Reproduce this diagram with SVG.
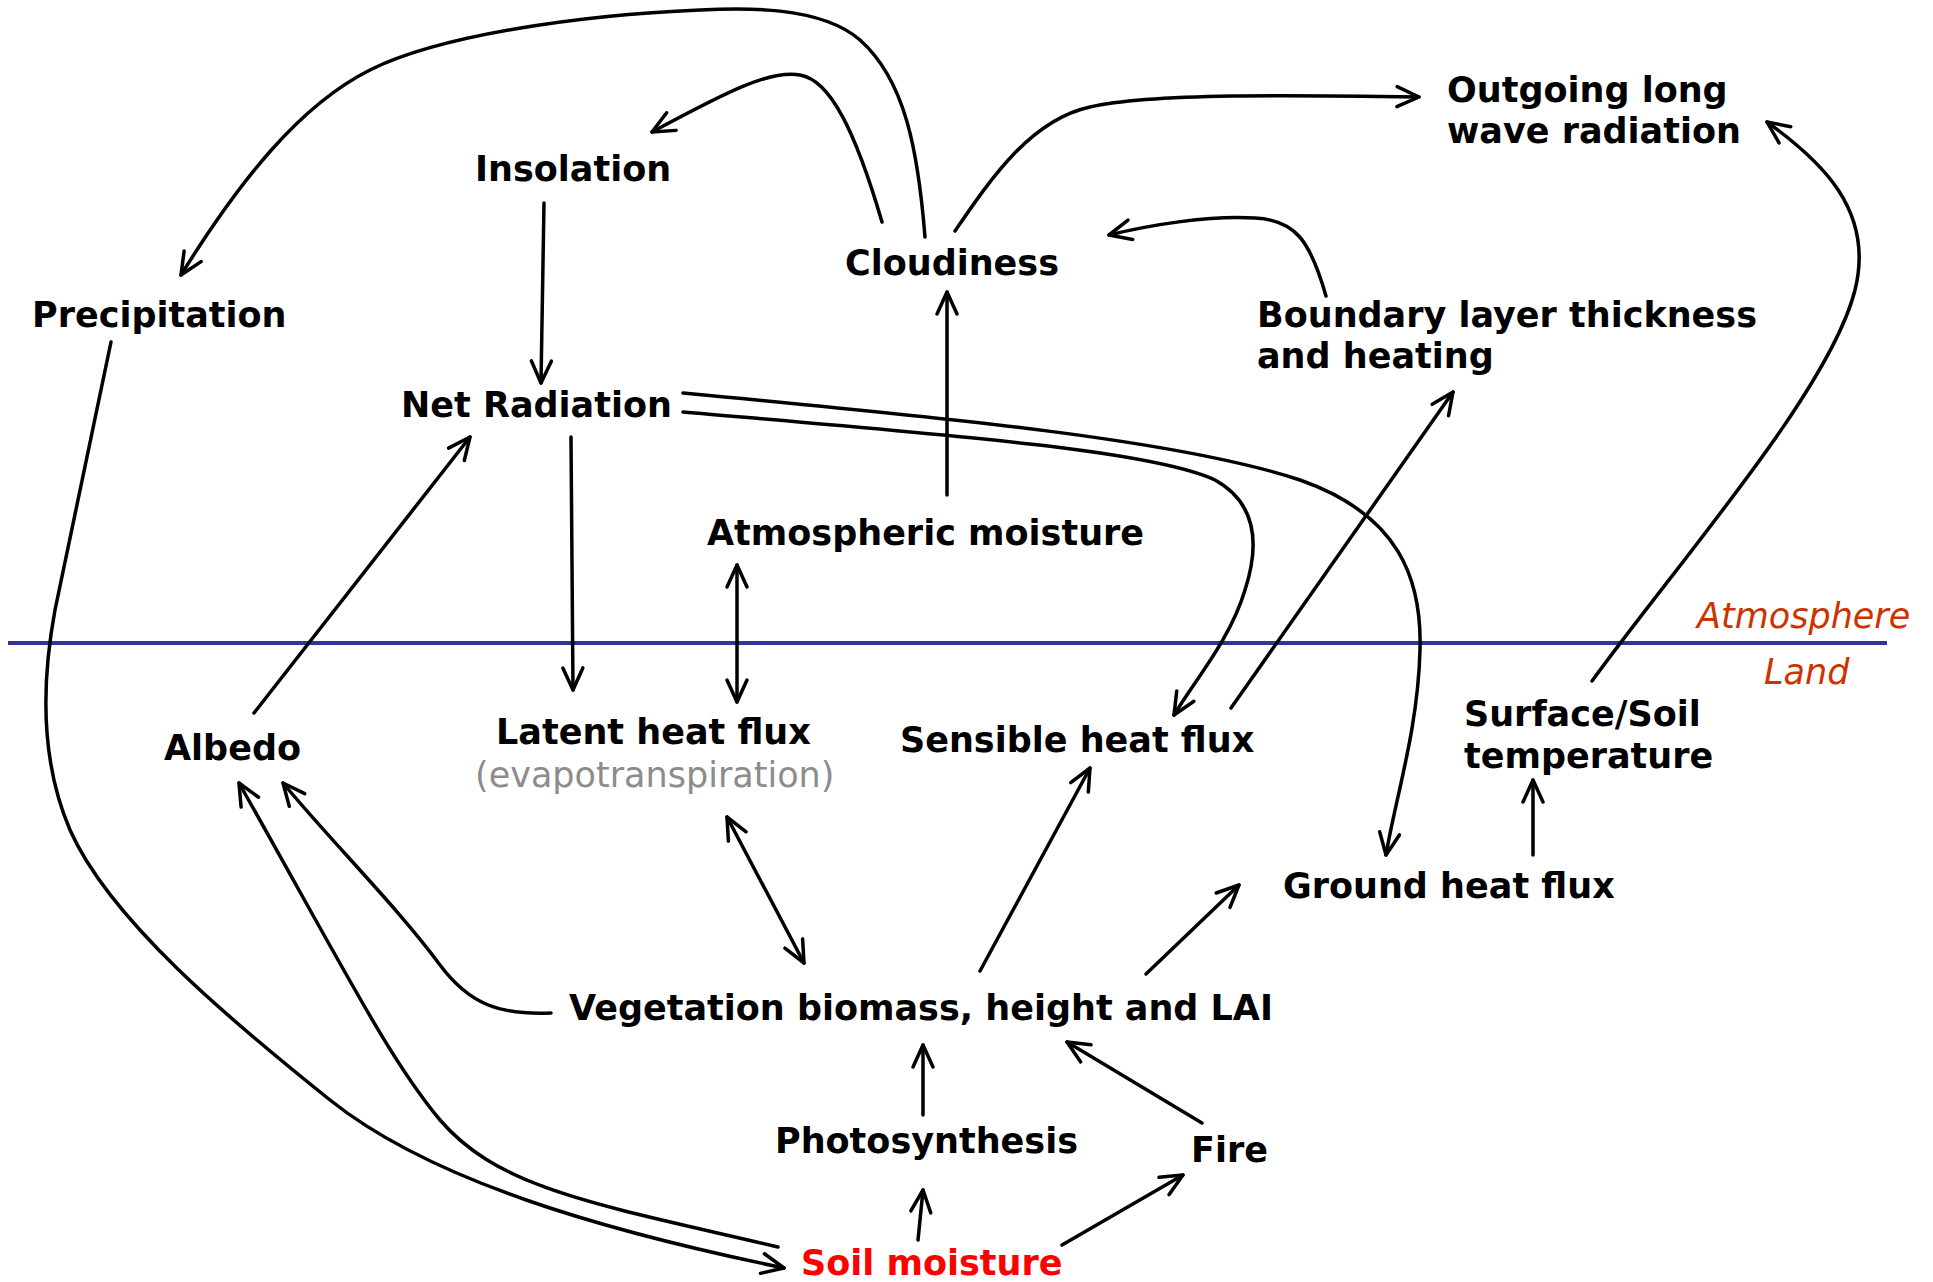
<svg xmlns="http://www.w3.org/2000/svg" width="1933" height="1282" viewBox="0 0 1933 1282">
<defs>
<style>
.lbl{font-family:"DejaVu Sans","Verdana",sans-serif;font-weight:bold;font-size:35px;fill:#000}
.sub{font-family:"DejaVu Sans","Verdana",sans-serif;font-size:35px;fill:#8c8c8c}
.zone{font-family:"DejaVu Sans","Verdana",sans-serif;font-style:italic;font-size:35px;fill:#cc3300}
.red{fill:#ff0000}
.c{fill:none;stroke:#000;stroke-width:3.5;stroke-linecap:round;stroke-linejoin:round}
.a{marker-end:url(#ah)}
.b{marker-start:url(#ah);marker-end:url(#ah)}
</style>
<marker id="ah" viewBox="-26 -14 30 28" markerWidth="30" markerHeight="28" refX="0" refY="0" orient="auto-start-reverse" markerUnits="userSpaceOnUse">
<path d="M -22 -10 L 0 0 L -22 10" fill="none" stroke="#000" stroke-width="3.5" stroke-linecap="round" stroke-linejoin="round"/>
</marker>
</defs>
<rect width="1933" height="1282" fill="#fff"/>

<g id="boundary">
<line x1="8" y1="643" x2="1887" y2="643" stroke="#333399" stroke-width="4"/>
<text class="zone" x="1697" y="628">Atmosphere</text>
<text class="zone" x="1764" y="684">Land</text>
</g>

<g id="connectors">
<path class="c a" d="M 925 237 C 918 150, 905 80, 860 40 C 820 5, 740 8, 700 10 C 580 15, 440 35, 370 70 C 300 105, 240 180, 181 275"/>
<path class="c a" d="M 882 222 C 855 130, 830 80, 800 75 C 770 70, 730 90, 652 132"/>
<path class="c a" d="M 544 203 L 541 383"/>
<path class="c a" d="M 683 393 C 950 418, 1180 440, 1300 480 C 1400 515, 1422 580, 1420 650 C 1418 730, 1395 800, 1386 855"/>
<path class="c a" d="M 683 412 C 950 435, 1150 450, 1215 480 C 1260 505, 1258 550, 1245 590 C 1230 640, 1195 680, 1174 715"/>
<path class="c a" d="M 571 437 L 573 690"/>
<path class="c a" d="M 254 713 L 470 437"/>
<path class="c b" d="M 737 565 L 737 702"/>
<path class="c a" d="M 947 495 L 947 292"/>
<path class="c a" d="M 955 231 C 990 180, 1030 120, 1090 107 C 1150 93, 1300 95, 1419 97"/>
<path class="c a" d="M 1326 296 C 1310 240, 1295 220, 1255 218 C 1210 215, 1150 225, 1109 235"/>
<path class="c a" d="M 1231 708 L 1453 392"/>
<path class="c a" d="M 1592 681 C 1680 560, 1830 390, 1855 290 C 1875 210, 1820 160, 1767 122"/>
<path class="c a" d="M 1533 855 L 1533 780"/>
<path class="c b" d="M 727 817 L 804 963"/>
<path class="c a" d="M 980 971 L 1090 768"/>
<path class="c a" d="M 1146 974 L 1239 885"/>
<path class="c a" d="M 551 1013 C 500 1015, 470 1005, 440 965 C 400 910, 330 840, 283 783"/>
<path class="c a" d="M 778 1247 C 600 1205, 500 1190, 440 1120 C 390 1060, 350 980, 239 783"/>
<path class="c a" d="M 111 342 L 55 610 C 42 680, 40 760, 70 830 C 110 920, 230 1020, 330 1100 C 430 1180, 600 1230, 784 1268"/>
<path class="c a" d="M 918 1240 L 923 1190"/>
<path class="c a" d="M 923 1115 L 923 1045"/>
<path class="c a" d="M 1062 1245 L 1183 1175"/>
<path class="c a" d="M 1202 1123 L 1067 1042"/>
</g>

<g id="outgoing"><text class="lbl" x="1447" y="102">Outgoing long</text><text class="lbl" x="1447" y="143">wave radiation</text></g>
<g id="insolation"><text class="lbl" x="475" y="181">Insolation</text></g>
<g id="cloudiness"><text class="lbl" x="845" y="275">Cloudiness</text></g>
<g id="precipitation"><text class="lbl" x="32" y="327">Precipitation</text></g>
<g id="boundary-layer"><text class="lbl" x="1257" y="327">Boundary layer thickness</text><text class="lbl" x="1257" y="368">and heating</text></g>
<g id="net-radiation"><text class="lbl" x="401" y="417">Net Radiation</text></g>
<g id="atm-moisture"><text class="lbl" x="707" y="545">Atmospheric moisture</text></g>
<g id="albedo"><text class="lbl" x="164" y="760">Albedo</text></g>
<g id="latent"><text class="lbl" x="496" y="744">Latent heat flux</text><text class="sub" x="475" y="787">(evapotranspiration)</text></g>
<g id="sensible"><text class="lbl" x="900" y="752">Sensible heat flux</text></g>
<g id="surface-temp"><text class="lbl" x="1464" y="726">Surface/Soil</text><text class="lbl" x="1464" y="768">temperature</text></g>
<g id="ground-heat"><text class="lbl" x="1283" y="898">Ground heat flux</text></g>
<g id="vegetation"><text class="lbl" x="569" y="1020">Vegetation biomass, height and LAI</text></g>
<g id="photosynthesis"><text class="lbl" x="775" y="1153">Photosynthesis</text></g>
<g id="fire"><text class="lbl" x="1191" y="1162">Fire</text></g>
<g id="soil-moisture"><text class="lbl red" x="801" y="1275">Soil moisture</text></g>
</svg>
